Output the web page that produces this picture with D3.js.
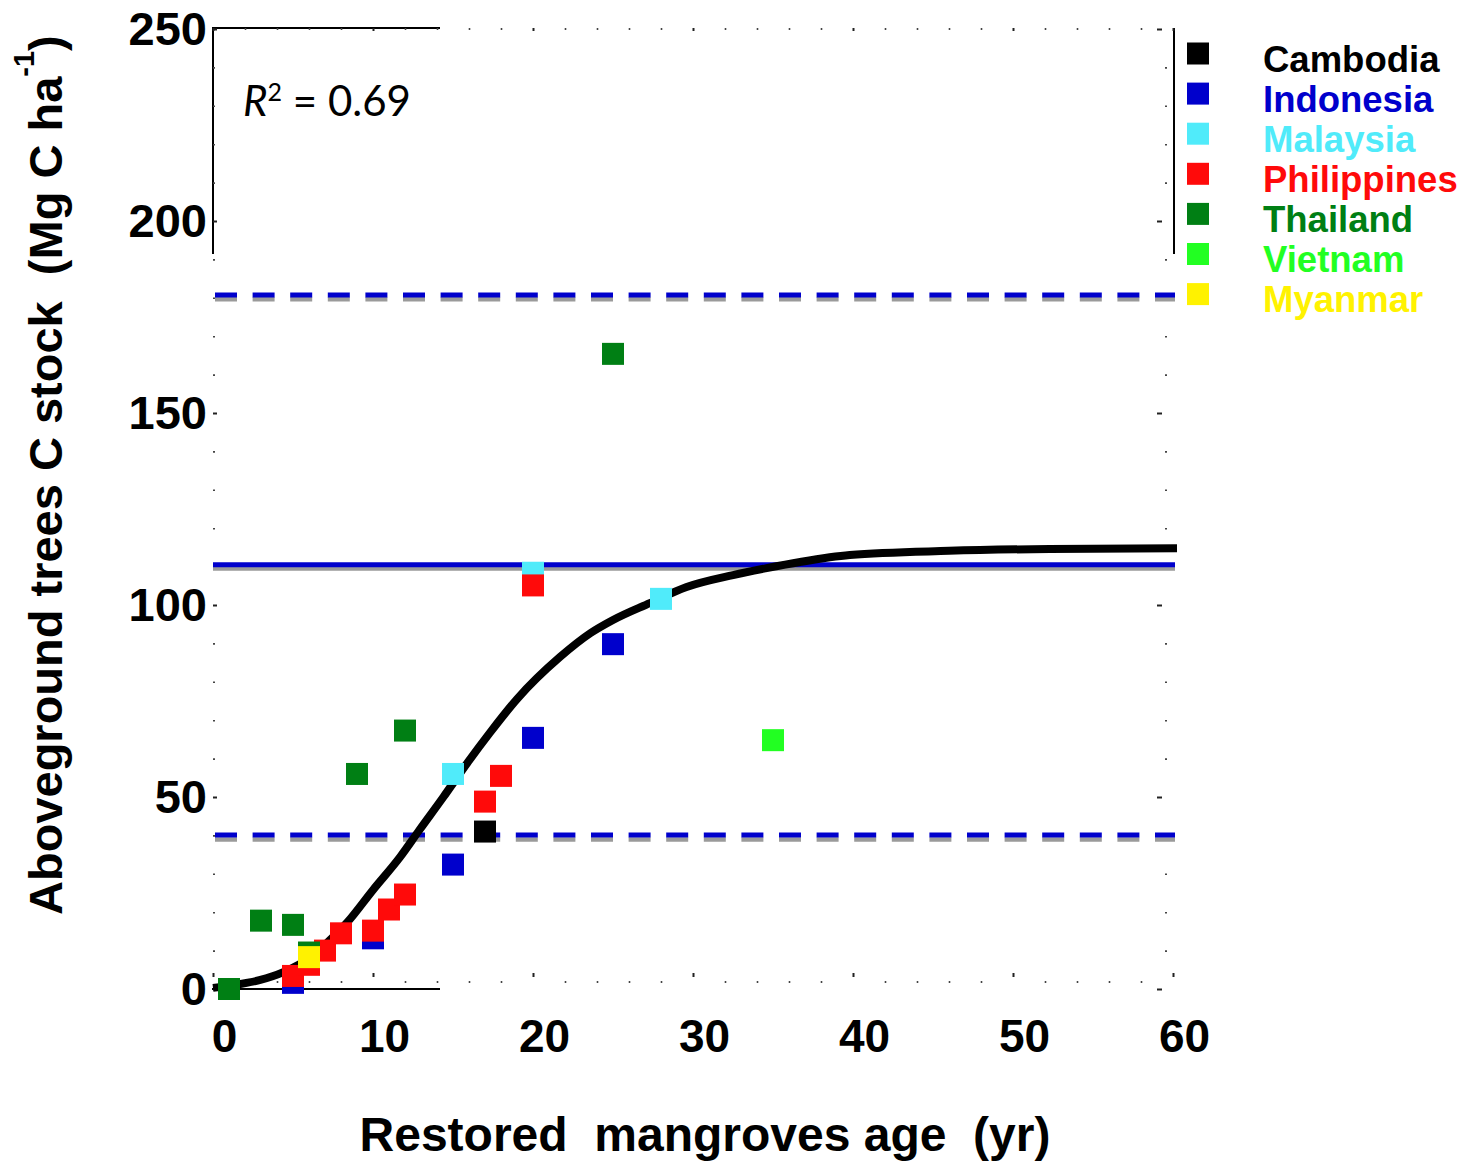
<!DOCTYPE html>
<html>
<head>
<meta charset="utf-8">
<script src="https://cdn.jsdelivr.net/npm/d3@7"></script>
<style>
  body { margin: 0; background: #fff; }
  text { white-space: pre; }
</style>
</head>
<body>
<main></main>
<script>
const width = 1467;
const height = 1163;

// country series (age in years, stock in Mg C / ha)
const countries = ['Cambodia', 'Indonesia', 'Malaysia', 'Philippines', 'Thailand', 'Vietnam', 'Myanmar'];
const countryColors = ['#000000', '#0000cc', '#50ebfa', '#ff0a0a', '#007f14', '#22ff22', '#fff200'];

const cambodiaAge = [17];
const cambodiaStock = [41];
const indonesiaAge = [5, 10, 15, 20, 25];
const indonesiaStock = [1.6, 13.2, 32.4, 65.4, 89.8];
const malaysiaAge = [15, 20, 28];
const malaysiaStock = [56, 108.4, 101.6];
const philippinesAge = [5, 6, 7, 8, 10, 11, 12, 17, 18, 20];
const philippinesStock = [3.4, 6.3, 10, 14.5, 15.2, 20.7, 24.6, 48.8, 55.5, 105.1];
const thailandAge = [1, 3, 5, 6, 9, 12, 25];
const thailandStock = [0, 17.8, 16.7, 9.5, 56, 67.3, 165.4];
const vietnamAge = [35];
const vietnamStock = [64.8];
const myanmarAge = [6];
const myanmarStock = [8.3];

const seriesAges = [cambodiaAge, indonesiaAge, malaysiaAge, philippinesAge, thailandAge, vietnamAge, myanmarAge];
const seriesStocks = [cambodiaStock, indonesiaStock, malaysiaStock, philippinesStock, thailandStock, vietnamStock, myanmarStock];

// fitted curve
const fitAge = [0, 1.25, 2.9, 4.4, 6.1, 7.5, 8.4, 10, 11.7, 12.9, 14.4, 15.9, 17.3, 19, 21.7, 23.6, 25, 27.3, 29.6, 32.5, 34.6, 36.7, 39.8, 46, 52.3, 60.25];
const fitStock = [0.3, 1, 2.3, 4.4, 8.3, 13.5, 17.4, 25.8, 34.4, 41.4, 50, 58.9, 66.7, 75.5, 86.5, 92.7, 96.1, 100.5, 104.7, 107.8, 109.6, 111.2, 113, 114.1, 114.6, 114.8];

// reference levels (mean and bounds), blue over a grey twin
const blueLevels = [180.7, 110.5, 40.1];
const greyLevels = [179.6, 109.5, 38.9];
const levelDashed = [true, false, true];

const xTicks = [0, 10, 20, 30, 40, 50, 60];
const yTicks = [0, 50, 100, 150, 200, 250];

const x = d3.scaleLinear().domain([0, 60]).range([213, 1173]);
const y = d3.scaleLinear().domain([0, 250]).range([989, 29]);

const svg = d3.select('main').append('svg')
    .attr('width', width)
    .attr('height', height)
    .attr('font-family', 'Liberation Sans, Arial, sans-serif');

// partial frame
const frame = svg.append('g').attr('stroke', '#000').attr('stroke-width', 2).attr('fill', 'none');
frame.append('line').attr('x1', 212).attr('x2', 440).attr('y1', 28).attr('y2', 28);
frame.append('line').attr('x1', 213).attr('x2', 213).attr('y1', 28).attr('y2', 254);
frame.append('line').attr('x1', 212).attr('x2', 440).attr('y1', 989).attr('y2', 989);
frame.append('line').attr('x1', 1174).attr('x2', 1174).attr('y1', 28).attr('y2', 254);

// tick marks
const minorX = d3.range(0, 61, 2).filter(d => d % 10 !== 0);
const minorY = d3.range(0, 251, 10).filter(d => d % 50 !== 0);

const tickAxis = (axis, tx, ty, col, w) => {
    const g = svg.append('g').attr('transform', `translate(${tx},${ty})`).call(axis);
    g.select('.domain').remove();
    g.selectAll('line').attr('stroke', col).attr('stroke-width', w);
    return g;
};

tickAxis(d3.axisBottom(x).tickValues(minorX).tickSize(2).tickFormat(''), 0, 981, '#444', 1.6);
tickAxis(d3.axisBottom(x).tickValues(xTicks).tickSize(4).tickFormat(''), 0, 973, '#222', 2);
tickAxis(d3.axisBottom(x).tickValues(minorX).tickSize(2).tickFormat(''), 0, 28, '#444', 1.6);
tickAxis(d3.axisBottom(x).tickValues(xTicks).tickSize(3).tickFormat(''), 0, 28, '#222', 2);
tickAxis(d3.axisRight(y).tickValues(minorY).tickSize(2).tickFormat(''), 213, 0, '#444', 1.6);
tickAxis(d3.axisRight(y).tickValues(yTicks).tickSize(4).tickFormat(''), 213, 0, '#222', 2);
tickAxis(d3.axisLeft(y).tickValues(minorY).tickSize(2).tickFormat(''), 1167, 0, '#444', 1.6);
tickAxis(d3.axisLeft(y).tickValues(yTicks).tickSize(5).tickFormat(''), 1162, 0, '#222', 2);

// tick labels
const xLab = svg.append('g').attr('transform', 'translate(11,989)')
    .call(d3.axisBottom(x).tickValues(xTicks).tickSize(0).tickPadding(30));
xLab.select('.domain').remove();
xLab.selectAll('text').attr('font-size', 46).attr('font-weight', 'bold')
    .attr('font-family', 'Liberation Sans, Arial, sans-serif').attr('fill', '#000');

const yLab = svg.append('g').attr('transform', 'translate(213,0)')
    .call(d3.axisLeft(y).tickValues(yTicks).tickSize(0).tickPadding(6));
yLab.select('.domain').remove();
yLab.selectAll('text').attr('font-size', 47).attr('font-weight', 'bold')
    .attr('font-family', 'Liberation Sans, Arial, sans-serif').attr('fill', '#000');

// reference lines
const levels = svg.append('g');
levels.selectAll('line.grey')
    .data(greyLevels)
    .enter()
    .append('line')
    .attr('class', 'grey')
    .attr('x1', 213).attr('x2', 1175)
    .attr('y1', d => y(d)).attr('y2', d => y(d))
    .attr('stroke', '#9a9a9a')
    .attr('stroke-width', 4.5)
    .attr('stroke-dasharray', (d, i) => levelDashed[i] ? '22 15.6' : null)
    .attr('stroke-dashoffset', -2);
levels.selectAll('line.blue')
    .data(blueLevels)
    .enter()
    .append('line')
    .attr('class', 'blue')
    .attr('x1', 213).attr('x2', 1175)
    .attr('y1', d => y(d)).attr('y2', d => y(d))
    .attr('stroke', '#0000cc')
    .attr('stroke-width', 5)
    .attr('stroke-dasharray', (d, i) => levelDashed[i] ? '22 15.6' : null)
    .attr('stroke-dashoffset', -2);

// fitted curve
const line = d3.line()
    .x(d => x(d[0]))
    .y(d => y(d[1]))
    .curve(d3.curveMonotoneX);
svg.append('path')
    .datum(fitAge.map((a, i) => [a, fitStock[i]]))
    .attr('d', line)
    .attr('fill', 'none')
    .attr('stroke', '#000')
    .attr('stroke-width', 8);

// points
const sq = 22;
countries.forEach((c, k) => {
    svg.append('g').selectAll('rect')
        .data(seriesAges[k].map((a, i) => [a, seriesStocks[k][i]]))
        .enter()
        .append('rect')
        .attr('x', d => x(d[0]) - sq / 2)
        .attr('y', d => y(d[1]) - sq / 2)
        .attr('width', sq)
        .attr('height', sq)
        .attr('fill', countryColors[k]);
});

// legend
const legend = svg.append('g');
countries.forEach((c, i) => {
    const cy = 53.5 + i * 40.1;
    legend.append('rect')
        .attr('x', 1187).attr('y', cy - sq / 2)
        .attr('width', sq).attr('height', sq)
        .attr('fill', countryColors[i]);
    legend.append('text')
        .attr('x', 1263).attr('y', cy + 18)
        .attr('font-size', 36.5).attr('font-weight', 'bold')
        .attr('fill', countryColors[i])
        .text(c);
});

// R squared
const r2 = svg.append('text')
    .attr('x', 243).attr('y', 116)
    .attr('font-family', 'Lato, Open Sans, sans-serif')
    .attr('font-size', 42);
r2.append('tspan').attr('font-style', 'italic').text('R');
r2.append('tspan').attr('font-size', 25).attr('dy', -15).text('2');
r2.append('tspan').attr('dy', 15).text(' = 0.69');

// axis titles
svg.append('text')
    .attr('x', 705).attr('y', 1151)
    .attr('text-anchor', 'middle')
    .attr('font-size', 48).attr('font-weight', 'bold')
    .text('Restored  mangroves age  (yr)');

const yTitle = svg.append('text')
    .attr('transform', 'translate(62,915) rotate(-90)')
    .attr('font-size', 47).attr('font-weight', 'bold');
yTitle.append('tspan').text('Aboveground trees C stock  (Mg C ha');
yTitle.append('tspan').attr('font-size', 29).attr('dy', -28).text('-1');
yTitle.append('tspan').attr('dy', 28).text(')');
</script>
</body>
</html>
